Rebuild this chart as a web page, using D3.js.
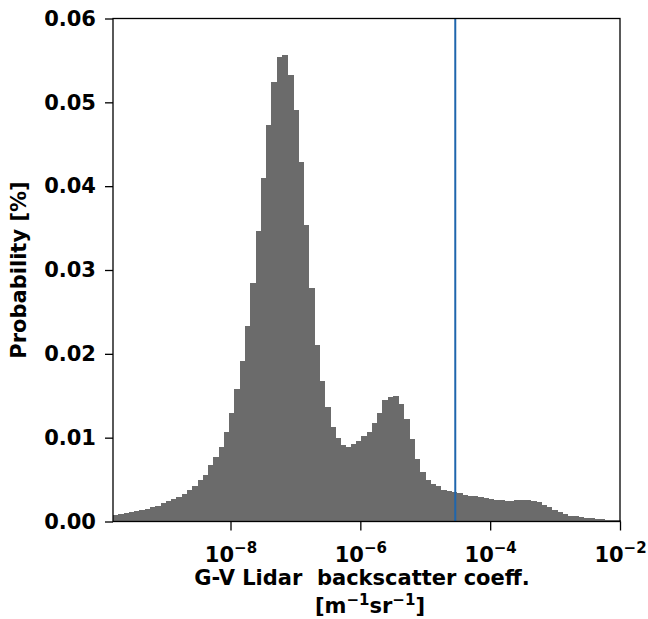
<!DOCTYPE html>
<html>
<head>
<meta charset="utf-8">
<script src="https://cdn.jsdelivr.net/npm/d3@7"></script>
<style>
  body { margin: 0; background: #fff; }
  text { font-family: "DejaVu Sans", sans-serif; font-weight: bold; fill: #000; }
</style>
</head>
<body>
<svg id="chart" width="648" height="619"></svg>
<script>
// histogram of lidar backscatter, log10 bins
const binStartLog = -9.81;
const binEndLog = -2;
const probValues = [
  0.00078, 0.0009, 0.00105, 0.00113, 0.00125, 0.00137, 0.00155, 0.0017, 0.0019, 0.00215,
  0.0024, 0.0027, 0.0029, 0.0033, 0.0038, 0.0042, 0.0050, 0.0055, 0.0067, 0.0077,
  0.0089, 0.0107, 0.0129, 0.0158, 0.0192, 0.0233, 0.0285, 0.0347, 0.0410, 0.0473,
  0.0524, 0.0554, 0.0556, 0.0533, 0.0491, 0.0429, 0.0354, 0.0279, 0.0211, 0.0167,
  0.0137, 0.0113, 0.0100, 0.0091, 0.0089, 0.0092, 0.0096, 0.0102, 0.0107, 0.0118,
  0.0130, 0.0145, 0.0149, 0.0150, 0.0140, 0.0122, 0.0099, 0.0075, 0.0059, 0.0050,
  0.0045, 0.0042, 0.0038, 0.0036, 0.0035, 0.0034, 0.0032, 0.0031, 0.0030, 0.0029,
  0.0028, 0.0027, 0.0026, 0.0026, 0.0025, 0.0025, 0.0026, 0.0026, 0.0026, 0.0025,
  0.0023, 0.0020, 0.0017, 0.0014, 0.0011, 0.0009, 0.0007, 0.0006, 0.0005, 0.00045,
  0.0004, 0.0003, 0.00026, 0.0002, 0.00018, 0.00015
];
const xTickValues = [1e-8, 1e-6, 1e-4, 1e-2];
const xTickExps = ["\u22128", "\u22126", "\u22124", "\u22122"];
const yTickValues = [0, 0.01, 0.02, 0.03, 0.04, 0.05, 0.06];
const thresholdValue = 2.9e-5;

const margin = { top: 18.5, left: 113, right: 28, bottom: 97.5 };
const W = 648, H = 619;

const svg = d3.select("#chart");

const x = d3.scaleLog()
    .domain([Math.pow(10, binStartLog), Math.pow(10, binEndLog)])
    .range([margin.left, W - margin.right]);
const y = d3.scaleLinear()
    .domain([0, 0.06])
    .range([H - margin.bottom, margin.top]);

const nBins = probValues.length;
const step = (binEndLog - binStartLog) / nBins;
const bins = probValues.map((v, i) => ({
    x0: Math.pow(10, binStartLog + i * step),
    x1: Math.pow(10, binStartLog + (i + 1) * step),
    v: v
}));

// bars
svg.append("g")
   .attr("shape-rendering", "crispEdges")
   .selectAll("rect")
   .data(bins)
   .enter()
   .append("rect")
   .attr("x", d => x(d.x0))
   .attr("width", d => x(d.x1) - x(d.x0) + 1)
   .attr("y", d => y(d.v))
   .attr("height", d => y(0) - y(d.v))
   .attr("fill", "#6b6b6b");

// threshold line
svg.append("line")
   .attr("x1", x(thresholdValue)).attr("x2", x(thresholdValue))
   .attr("y1", y(0.06)).attr("y2", y(0))
   .attr("stroke", "#1f66ad")
   .attr("stroke-width", 2);

// y axis
const yAxis = svg.append("g")
   .attr("transform", `translate(${margin.left},0)`)
   .call(d3.axisLeft(y).tickValues(yTickValues).tickFormat(d3.format(".2f"))
        .tickSize(8).tickPadding(9));
yAxis.select(".domain").remove();
yAxis.selectAll("line").attr("stroke", "#000").attr("stroke-width", 1.3);
yAxis.selectAll("text")
     .attr("font-size", "21px")
     .attr("font-family", null);

// x axis
const xAxis = svg.append("g")
   .attr("transform", `translate(0,${y(0)})`)
   .call(d3.axisBottom(x).tickValues(xTickValues).tickFormat("").tickSize(9));
xAxis.select(".domain").remove();
xAxis.selectAll("line").attr("stroke", "#000").attr("stroke-width", 1.3);
xAxis.selectAll(".tick text").remove();
xAxis.selectAll(".tick")
     .append("text")
     .attr("y", 40)
     .attr("text-anchor", "middle")
     .attr("font-size", "21px")
     .each(function(d, i) {
         const t = d3.select(this);
         t.append("tspan").text("10");
         t.append("tspan").attr("dy", -9).attr("font-size", "15px").text(xTickExps[i]);
     });

// frame
svg.append("rect")
   .attr("x", margin.left).attr("y", margin.top)
   .attr("width", W - margin.left - margin.right)
   .attr("height", H - margin.top - margin.bottom)
   .attr("fill", "none")
   .attr("stroke", "#000")
   .attr("stroke-width", 1.3);

// labels
svg.append("text")
   .attr("x", 362).attr("y", 585)
   .attr("text-anchor", "middle")
   .attr("font-size", "21px")
   .attr("xml:space", "preserve")
   .text("G-V Lidar  backscatter coeff.");

const unitLabel = svg.append("text")
   .attr("x", 370).attr("y", 613)
   .attr("text-anchor", "middle")
   .attr("font-size", "21px");
unitLabel.append("tspan").text("[m");
unitLabel.append("tspan").attr("dy", -8).attr("font-size", "15px").text("\u22121");
unitLabel.append("tspan").attr("dy", 8).text("sr");
unitLabel.append("tspan").attr("dy", -8).attr("font-size", "15px").text("\u22121");
unitLabel.append("tspan").attr("dy", 8).text("]");

svg.append("text")
   .attr("transform", `translate(26,${(y(0) + y(0.06)) / 2}) rotate(-90)`)
   .attr("text-anchor", "middle")
   .attr("font-size", "21px")
   .text("Probability [%]");
</script>
</body>
</html>
